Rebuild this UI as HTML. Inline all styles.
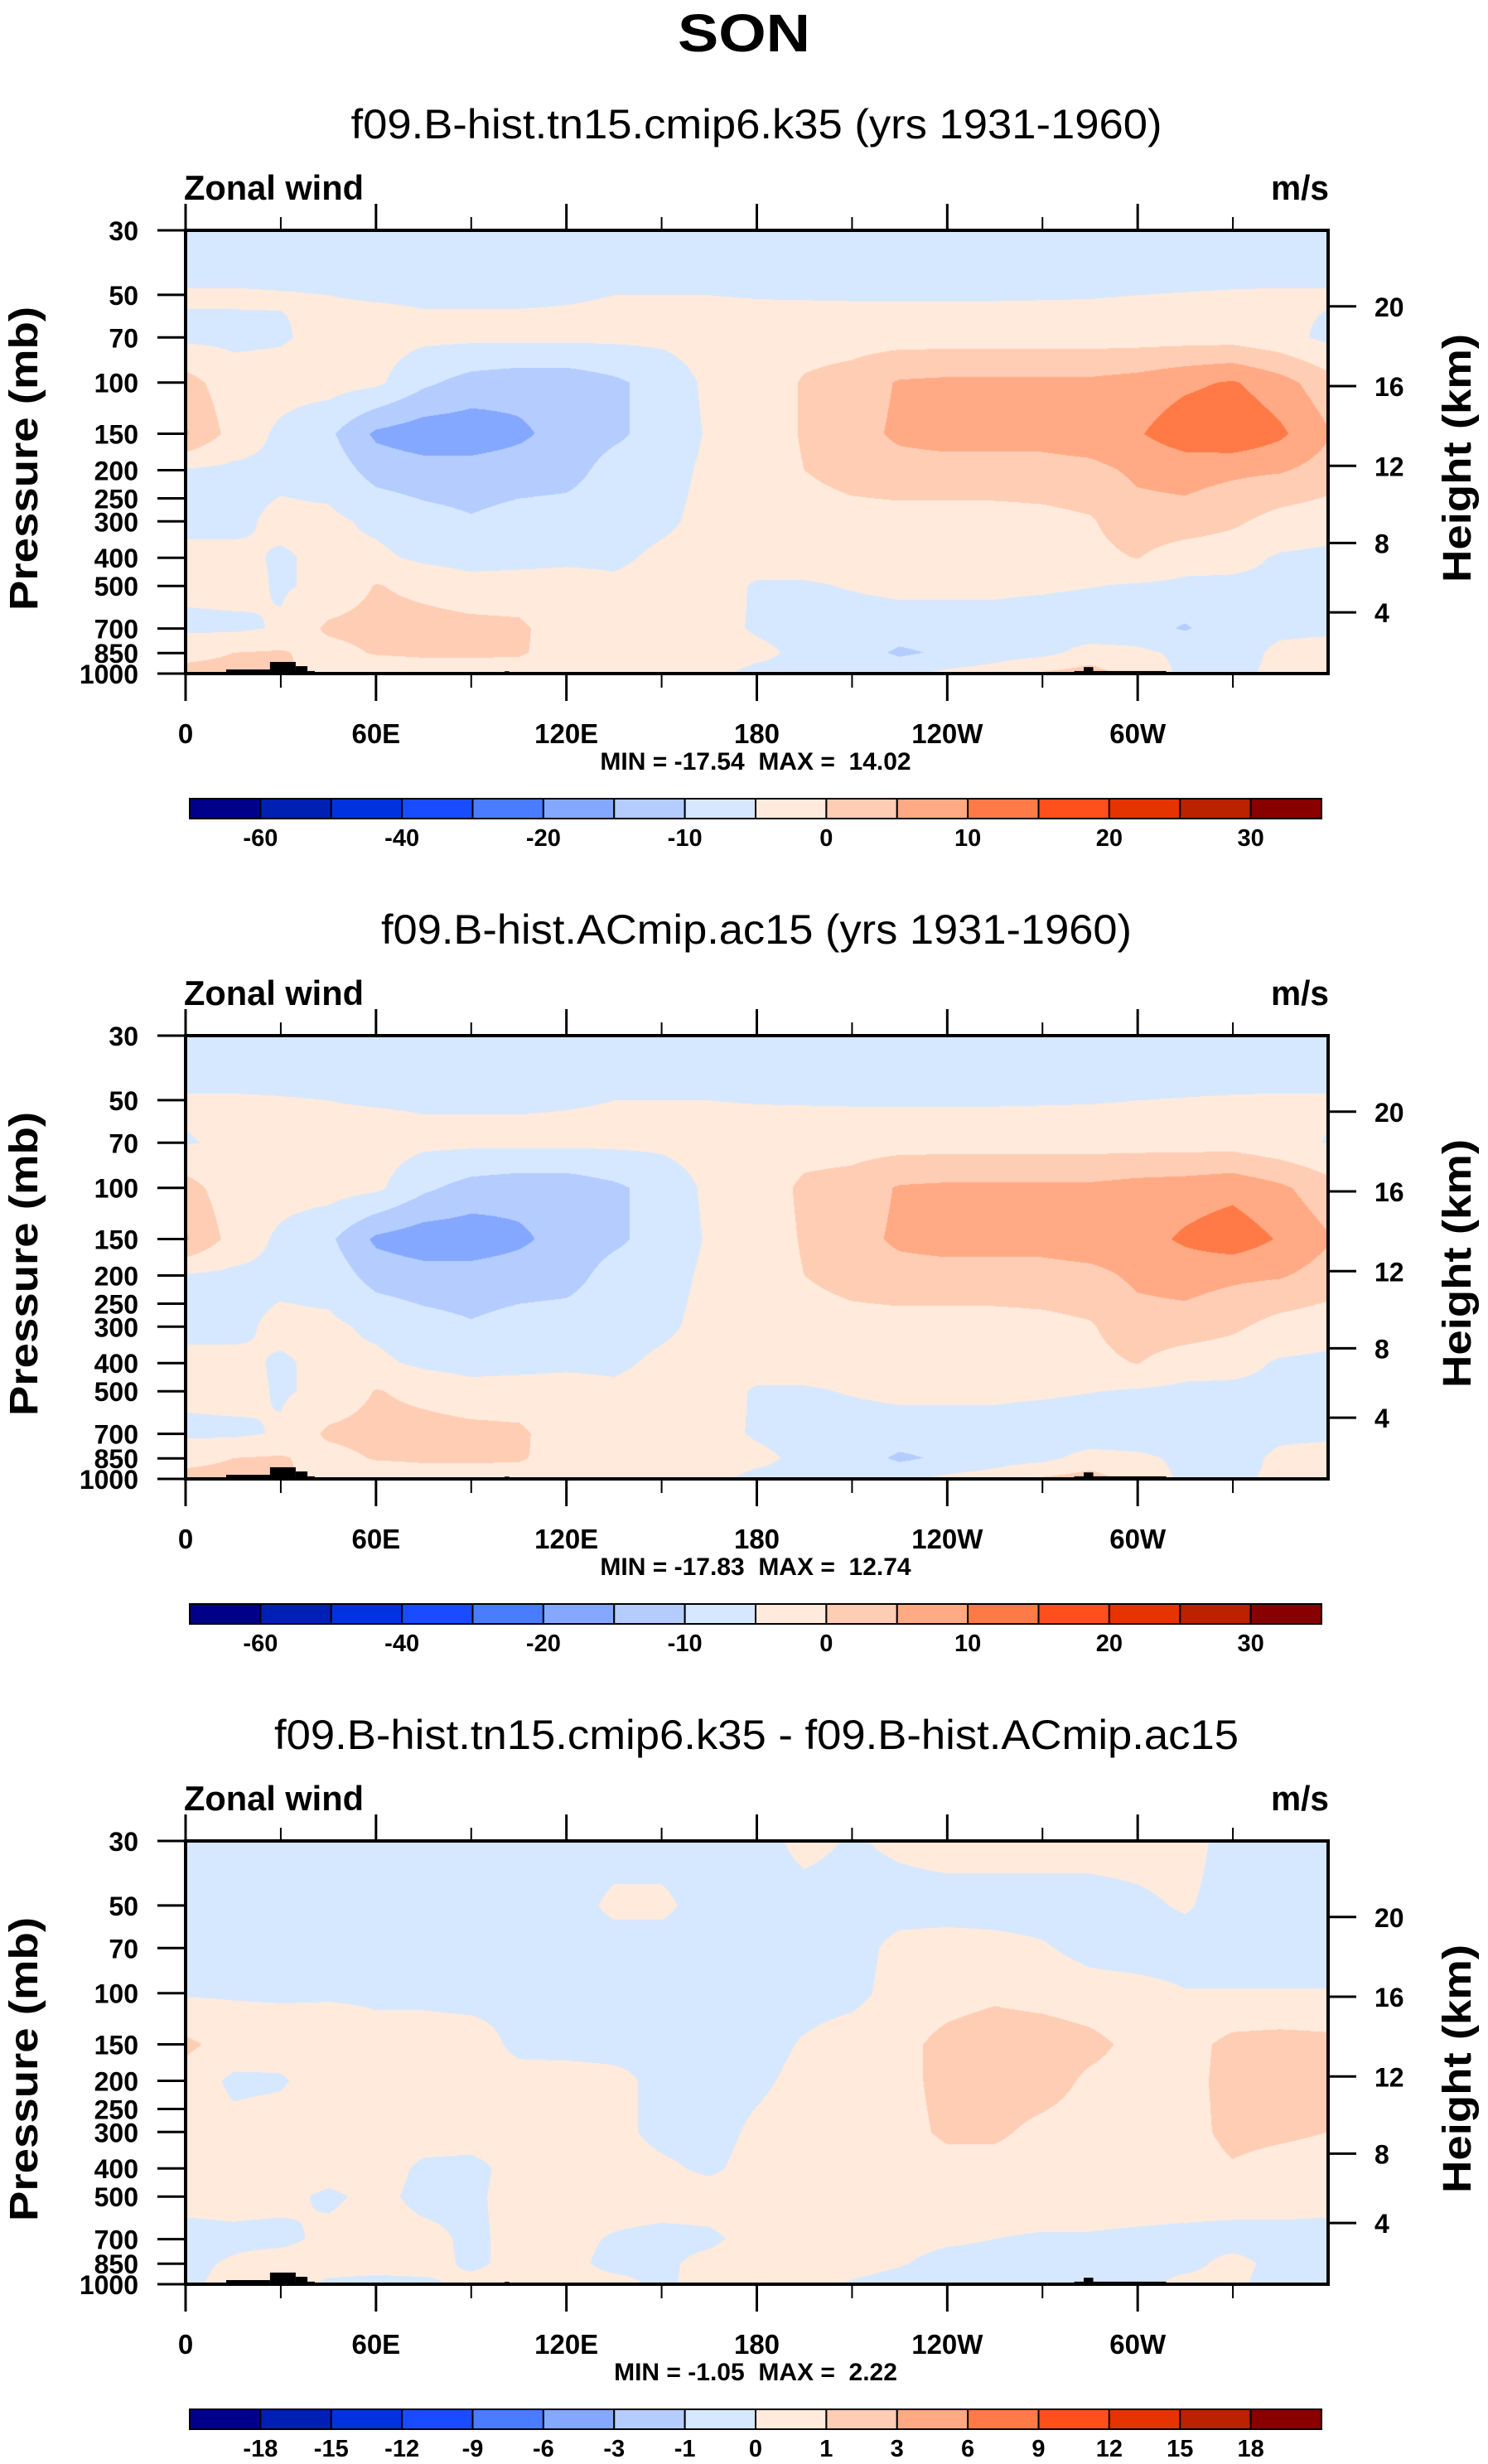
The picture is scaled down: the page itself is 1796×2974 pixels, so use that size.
<!DOCTYPE html>
<html><head><meta charset="utf-8">
<style>
html,body{margin:0;padding:0;background:#fff;}
body{width:1796px;height:2974px;position:relative;overflow:hidden;font-family:"Liberation Sans",sans-serif;}
canvas{position:absolute;}
#overlay{position:absolute;left:0;top:0;}
</style></head>
<body>
<canvas id="field1" width="1379" height="535" style="left:224px;top:278px"></canvas>
<canvas id="field2" width="1379" height="535" style="left:224px;top:1250px"></canvas>
<canvas id="field3" width="1379" height="535" style="left:224px;top:2222px"></canvas>
<svg id="overlay" width="1796" height="2974" xmlns="http://www.w3.org/2000/svg">
<text x="898" y="62" text-anchor="middle" font-family="Liberation Sans, sans-serif" font-weight="bold" font-size="64" textLength="160" lengthAdjust="spacingAndGlyphs">SON</text>
</svg>
<script>
// ---- data ----
const rowPressures = [30,50,70,100,150,200,300,400,500,700,850,1000];
const lonStep = 15;
const panel1Wind = [
[-9,-9,-9,-9,-9,-9,-9,-9,-9,-9,-9,-9,-9,-9,-9,-9,-9,-9,-9,-9,-9,-9,-9,-9,-9],
[-4.5,-4.5,-4.7,-5,-5.4,-5.5,-5.5,-5.5,-5.3,-5,-5,-5,-5.2,-5.4,-5.5,-5.5,-5.5,-5.5,-5.4,-5.3,-5,-4.8,-4.6,-4.5,-4.5],
[-6,-6,-5.5,-3.5,-3,-4,-4,-4,-4,-4,-4,-3,-3,-2,-2,-2,-2,-2,-2,-2,-2,-2,-2,-3.5,-6],
[2,-3,-3,-3,-4,-9,-12,-13,-13,-11,-8,-4,-3,0.5,2,5.5,6,6,6,6,7,9,10.5,7,2],
[5.5,-2,-6,-9,-16,-18,-18,-16,-13,-11,-8,-4.5,-3,0.5,3,6,7,7,7,8,9.5,13,14.5,11,5.5],
[-5.5,-6,-6,-7,-12,-13,-13,-12.5,-12,-8,-7,-4,-2.5,0,2,3,3,3,3,3.5,6,7,6,5.5,3],
[-6,-6,-4,-4,-6,-8,-9.5,-8,-7.5,-7,-6,-3.5,-3,-2.5,-2,-2,-2,-2,-1.5,-0.5,3,3,1,-2,-3],
[-4,-4,-5.5,-4,-4,-6,-7,-6.5,-6,-6,-4,-3,-3,-3,-3,-3,-3,-3,-3,-1.5,0.2,-3,-3.5,-5.5,-6],
[-4,-3.5,-5.5,-4,0.3,-1.5,-3,-3,-3,-4,-3,-3,-5.5,-5.5,-4.7,-4,-4,-4,-4.2,-4.8,-5.5,-6,-6,-6,-6],
[-6,-6,-4.5,1,2,2,1.5,1,-3,-3.5,-3.5,-3.5,-5.5,-6.5,-7,-7,-7,-7,-8,-8.5,-8,-10.5,-7,-6,-6],
[-1,0,0.5,-2,0.5,1,1,0.5,-2,-3,-3,-3,-4,-6,-7,-11,-9,-7,-6.5,-3,-4,-6,-7,-4,-3],
[1,1,1,-2,-4,-3,-3,-2,-3,-4,-4,-4,-6,-6,-6,-6,-4,-3,0.5,2,-2,-6,-6,-4,-3]
];
const panel2Wind = [
[-9,-9,-9,-9,-9,-9,-9,-9,-9,-9,-9,-9,-9,-9,-9,-9,-9,-9,-9,-9,-9,-9,-9,-9,-9],
[-4.5,-4.5,-4.7,-5,-5.4,-5.5,-5.5,-5.5,-5.3,-5,-5,-5,-5.2,-5.4,-5.5,-5.5,-5.5,-5.5,-5.4,-5.3,-5,-4.8,-4.6,-4.5,-4.5],
[-5.2,-4.5,-4,-3.5,-3,-4,-4,-4,-4,-4,-4,-3,-3,-2,-2,-2,-2,-2,-2,-2,-2,-2,-2,-3.5,-5.2],
[2,-3,-3,-3,-4,-9,-12,-13,-13,-11,-8,-4,-3,1,2,5.5,6,6,6,6,7,7.5,8.5,6,2],
[5.5,-2,-6,-9,-16,-18,-18,-16,-13,-11,-8,-4.5,-3,0.5,3,6,7,7,7,8,8,10.8,13,9.5,5.5],
[-5.5,-6,-6,-7,-12,-13,-13,-12.5,-12,-8,-7,-4,-2.5,0,2,3,3,3,3,3.5,6,7,6,5.5,3],
[-6,-6,-4,-4,-6,-8,-9.5,-8,-7.5,-7,-6,-3.5,-3,-2.5,-2,-2,-2,-2,-1.5,-0.5,3,3,1,-2,-3],
[-4,-4,-5.5,-4,-4,-6,-7,-6.5,-6,-6,-4,-3,-3,-3,-3,-3,-3,-3,-3,-1.5,0.2,-3,-3.5,-5.5,-6],
[-4,-3.5,-5.5,-4,0.3,-1.5,-3,-3,-3,-4,-3,-3,-5.5,-5.5,-4.7,-4,-4,-4,-4.2,-4.8,-5.5,-6,-6,-6,-6],
[-6,-6,-4.5,1,2,2,1.5,1,-3,-3.5,-3.5,-3.5,-5.5,-6.5,-7,-7,-7,-7,-8,-8.5,-8,-7.5,-7,-6,-6],
[-1,0,0.5,-2,0.5,1,1,0.5,-2,-3,-3,-3,-4,-6,-7,-11,-9,-7,-6.5,-3,-4,-6,-7,-4,-3],
[1,1,1,-2,-4,-3,-3,-2,-3,-4,-4,-4,-6,-6,-6,-6,-4,-3,0.5,2,-2,-6,-6,-4,-3]
];
const panel3Diff = [
[-0.4,-0.4,-0.4,-0.4,-0.4,-0.4,-0.4,-0.4,-0.4,-0.4,-0.4,-0.4,-0.4,0.3,-0.1,0.2,0.4,0.4,0.4,0.4,0.4,0.4,-0.4,-0.4,-0.4],
[-0.4,-0.4,-0.4,-0.4,-0.4,-0.4,-0.4,-0.4,-0.4,0.2,0.2,-0.4,-0.4,-0.4,-0.4,-0.4,-0.4,-0.4,-0.4,-0.4,-0.2,0.1,-0.4,-0.4,-0.4],
[-0.4,-0.4,-0.4,-0.4,-0.4,-0.4,-0.4,-0.4,-0.4,-0.4,-0.4,-0.4,-0.4,-0.4,-0.4,0.3,0.4,0.3,0.1,-0.3,-0.4,-0.4,-0.4,-0.4,-0.4],
[-0.1,-0.1,-0.1,-0.1,-0.1,-0.2,-0.3,-0.2,-0.4,-0.4,-0.4,-0.4,-0.4,-0.4,-0.3,0.4,0.6,0.8,0.6,0.4,0.3,0.05,0.05,0.05,0.05],
[1.2,0.6,0.4,0.5,0.2,0.4,0.4,-0.2,-0.4,-0.4,-0.2,-0.4,-0.4,0.1,0.5,0.7,1.3,1.6,1.6,1.3,0.7,0.6,1.3,1.4,1.3],
[0.6,-0.2,-0.1,0.5,0.4,0.4,0.4,0.3,0.5,0.3,-0.3,-0.4,-0.2,0.3,0.5,0.6,1.4,1.6,1.5,0.8,0.6,0.6,1.4,1.4,1.4],
[0.4,0.3,0.4,0.5,0.5,0.5,0.5,0.5,0.5,0.3,-0.3,-0.4,0.2,0.5,0.5,0.6,1.2,1.2,0.7,0.5,0.5,0.6,1.3,1.2,1.0],
[0.5,0.5,0.5,0.5,0.5,-0.2,-0.3,0.4,0.5,0.5,0.2,-0.2,0.4,0.5,0.2,0.5,0.6,0.6,0.5,0.5,0.5,0.5,0.9,0.6,0.5],
[0.3,0.3,0.3,-0.2,0.3,-0.3,-0.2,0.4,0.5,0.5,0.5,0.5,0.5,0.5,0.5,0.5,0.5,0.5,0.5,0.5,0.5,0.5,0.5,0.5,0.4],
[-0.3,-0.2,-0.3,0.3,0.4,0.3,-0.2,0.3,0.3,-0.1,-0.3,-0.2,0.4,0.5,0.5,0.4,0.2,0,-0.1,-0.1,-0.2,-0.3,-0.4,-0.4,-0.4],
[-0.2,0.1,0.5,0.5,0.4,0.4,-0.2,0.3,0.3,-0.3,-0.2,0.3,0.4,0.4,0.4,0.1,-0.4,-0.4,-0.4,-0.4,-0.4,-0.3,0.3,-0.3,-0.4],
[-0.2,0.3,0.5,-0.2,-0.3,-0.2,0.3,0.4,0.4,0.3,-0.2,0.4,0.4,0.3,-0.1,-0.4,-0.4,-0.4,-0.4,-0.4,-0.3,0.3,0.2,-0.4,-0.4]
];
const levelsWind = [-60,-50,-40,-30,-20,-15,-10,-5,0,5,10,15,20,25,30];
const levelsDiff = [-18,-15,-12,-9,-6,-3,-1,0,1,3,6,9,12,15,18];
const windBarLabels = ["","-60","","-40","","-20","","-10","","0","","10","","20","","30",""];
const diffBarLabels = ["","-18","-15","-12","-9","-6","-3","-1","0","1","3","6","9","12","15","18",""];
const palette = ["#00008b","#0020b4","#0033e0","#1a4cff","#4a7cff","#84a8ff","#b4ccff","#d6e8ff","#ffeadb","#ffcdb4","#ffaa84","#ff7a46","#ff4f1a","#e63400","#ba2200","#880000"];
const pressureTicks = [30,50,70,100,150,200,250,300,400,500,700,850,1000];
const heightTicks = [4,8,12,16,20];
const lonTicks = [0,60,120,180,240,300];
const lonTickLabels = ["0","60E","120E","180","120W","60W"];
const minorLonTicks = [30,90,150,210,270,330];
const topoLonStart = [9.4,12.8,26.6,34.7,38.4,100.5,280,283];
const topoLonEnd = [12.8,26.6,34.7,38.4,40.7,102,309,286];
const topoSurfP = [987,968,912,943,980,982,980,950];
const panelTitles = ["f09.B-hist.tn15.cmip6.k35 (yrs 1931-1960)","f09.B-hist.ACmip.ac15 (yrs 1931-1960)","f09.B-hist.tn15.cmip6.k35 - f09.B-hist.ACmip.ac15"];
const titleWidths = [979,906,1164];
const minMaxLabels = ["MIN = -17.54  MAX =  14.02","MIN = -17.83  MAX =  12.74","MIN = -1.05  MAX =  2.22"];

// ---- geometry ----
const L=224, W=1379, H=535, R=L+W;
const tops=[278,1250,2222];
const PMIN=30, PMAX=1000;
function yOfP(p,T){return T + Math.log(p/PMIN)/Math.log(PMAX/PMIN)*H;}
function xOfLon(lon){return L + lon/360*W;}
function pOfKm(z){
  const m=z*1000;
  if(m<=11000) return 1013.25*Math.pow(1-2.25577e-5*m,5.25588);
  return 226.32*Math.exp(-(m-11000)/6341.6);
}
function hex(c){return [parseInt(c.substr(1,2),16),parseInt(c.substr(3,2),16),parseInt(c.substr(5,2),16)];}
const pal=palette.map(hex);

function drawField(id, vals, levels){
  const cv=document.getElementById(id), ctx=cv.getContext('2d');
  const img=ctx.createImageData(W,H), d=img.data;
  const rowY=rowPressures.map(p=>Math.log(p/PMIN)/Math.log(PMAX/PMIN)*(H-1));
  const nC=vals[0].length;
  for(let y=0;y<H;y++){
    let r=0; while(r<rowY.length-2 && y>rowY[r+1]) r++;
    const t=Math.min(1,Math.max(0,(y-rowY[r])/(rowY[r+1]-rowY[r])));
    const a=vals[r], b=vals[r+1];
    for(let x=0;x<W;x++){
      const lon=x/(W-1)*360;
      let c=Math.min(Math.floor(lon/lonStep),nC-2);
      const s=(lon-c*lonStep)/lonStep;
      const v=(a[c]*(1-s)+a[c+1]*s)*(1-t)+(b[c]*(1-s)+b[c+1]*s)*t;
      let k=0; while(k<levels.length && v>=levels[k]) k++;
      const col=pal[k], o=(y*W+x)*4;
      d[o]=col[0];d[o+1]=col[1];d[o+2]=col[2];d[o+3]=255;
    }
  }
  ctx.putImageData(img,0,0);
}
drawField('field1',panel1Wind,levelsWind);
drawField('field2',panel2Wind,levelsWind);
drawField('field3',panel3Diff,levelsDiff);

const svg=document.getElementById('overlay');
const NS="http://www.w3.org/2000/svg";
function mk(tag,attrs,parent){const e=document.createElementNS(NS,tag);for(const k in attrs)e.setAttribute(k,attrs[k]);(parent||svg).appendChild(e);return e;}
function txt(s,attrs,parent){const e=mk('text',Object.assign({'font-family':'Liberation Sans, sans-serif','font-weight':'bold'},attrs),parent);e.textContent=s;return e;}

for(let pi=0;pi<3;pi++){
  const T=tops[pi], B=T+H;
  const g=mk('g',{});
  
  
  const tt=txt(panelTitles[pi],{x:913,y:T-111,'text-anchor':'middle','font-size':50,'font-weight':'normal',textLength:titleWidths[pi],lengthAdjust:'spacingAndGlyphs'},g);
  
  
  const zl=txt('Zonal wind',{x:222,y:T-37,'font-size':42,textLength:217,lengthAdjust:'spacingAndGlyphs'},g);
  
  
  const ul=txt('m/s',{x:1604,y:T-37,'font-size':42,'text-anchor':'end',textLength:70,lengthAdjust:'spacingAndGlyphs'},g);
  
  
  for(let i=0;i<topoSurfP.length;i++){
    const x0=xOfLon(topoLonStart[i]), x1=xOfLon(topoLonEnd[i]), y0=yOfP(topoSurfP[i],T);
    const tr=mk('rect',{x:x0,y:y0,width:x1-x0,height:B-y0,fill:'#000'},g);
    
    
  }
  const fr=mk('rect',{x:L,y:T,width:W,height:H,fill:'none',stroke:'#000','stroke-width':4},g);
  
  
  lonTicks.forEach((lon,i)=>{
    const x=xOfLon(lon);
    const t1=mk('line',{x1:x,y1:T-32,x2:x,y2:T,stroke:'#000','stroke-width':3},g);
    
    
    const t2=mk('line',{x1:x,y1:B,x2:x,y2:B+33,stroke:'#000','stroke-width':3},g);
    
    
    const lb=txt(lonTickLabels[i],{x:x,y:B+84,'text-anchor':'middle','font-size':33},g);
    
    
  });
  minorLonTicks.forEach(lon=>{
    const x=xOfLon(lon);
    const t1=mk('line',{x1:x,y1:T-16,x2:x,y2:T,stroke:'#000','stroke-width':2},g);
    
    
    const t2=mk('line',{x1:x,y1:B,x2:x,y2:B+17,stroke:'#000','stroke-width':2},g);
    
    
  });
  pressureTicks.forEach(p=>{
    const y=yOfP(p,T);
    const tk=mk('line',{x1:L-34,y1:y,x2:L,y2:y,stroke:'#000','stroke-width':3},g);
    
    
    const lb=txt(String(p),{x:167,y:y+12,'text-anchor':'end','font-size':32},g);
    
    
  });
  heightTicks.forEach(h=>{
    const y=yOfP(pOfKm(h),T);
    const tk=mk('line',{x1:R,y1:y,x2:R+34,y2:y,stroke:'#000','stroke-width':3},g);
    
    
    const lb=txt(String(h),{x:1659,y:y+12,'font-size':32},g);
    
    
  });
  const ya=txt('Pressure (mb)',{x:0,y:0,'text-anchor':'middle','font-size':48,textLength:367,lengthAdjust:'spacingAndGlyphs',transform:'translate(45,'+(T+H/2+8)+') rotate(-90)'},g);
  
  
  const ha=txt('Height (km)',{x:0,y:0,'text-anchor':'middle','font-size':48,textLength:300,lengthAdjust:'spacingAndGlyphs',transform:'translate(1775,'+(T+275)+') rotate(-90)'},g);
  
  
  const mm=txt(minMaxLabels[pi],{x:912,y:B+116,'text-anchor':'middle','font-size':30,style:'white-space:pre'},g);
  
  
  const cbY=B+151, cbH=24, cbX=229, cbW=1366, bw=cbW/16;
  const labels = pi<2 ? windBarLabels : diffBarLabels;
  for(let k=0;k<16;k++){
    const bx=mk('rect',{x:cbX+k*bw,y:cbY,width:bw,height:cbH,fill:palette[k],stroke:'#000','stroke-width':2},g);
    
    
  }
  for(let k=1;k<16;k++){
    if(!labels[k]) continue;
    const lb=txt(labels[k],{x:cbX+k*bw,y:B+208,'text-anchor':'middle','font-size':29},g);
    
    
  }
}
</script>
</body></html>
